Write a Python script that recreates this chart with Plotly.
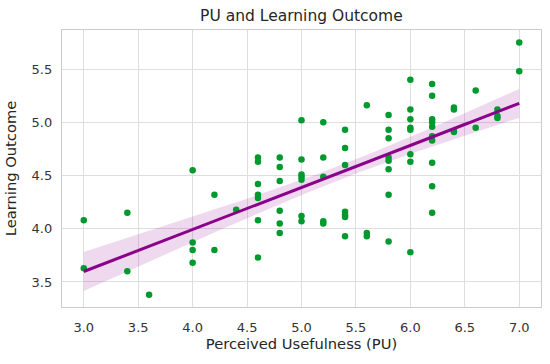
import numpy as np
import plotly.graph_objects as go

pu = [3.0, 3.0, 3.4, 3.4, 3.6,
      4.0, 4.0, 4.0, 4.0, 4.2, 4.2, 4.4,
      4.6, 4.6, 4.6, 4.6, 4.6, 4.6, 4.6,
      4.8, 4.8, 4.8, 4.8, 4.8, 4.8,
      5.0, 5.0, 5.0, 5.0, 5.0, 5.0, 5.0,
      5.2, 5.2, 5.2, 5.2, 5.2,
      5.4, 5.4, 5.4, 5.4, 5.4, 5.4, 5.4,
      5.6, 5.6, 5.6,
      5.8, 5.8, 5.8, 5.8, 5.8, 5.8, 5.8, 5.8,
      6.0, 6.0, 6.0, 6.0, 6.0, 6.0, 6.0, 6.0,
      6.2, 6.2, 6.2, 6.2, 6.2, 6.2, 6.2, 6.2, 6.2, 6.2,
      6.4, 6.4, 6.4, 6.4,
      6.6, 6.6,
      6.8, 6.8, 6.8,
      7.0, 7.0]
lo = [4.08, 3.63, 4.15, 3.60, 3.38,
      4.55, 3.87, 3.80, 3.68, 4.32, 3.80, 4.18,
      4.67, 4.63, 4.42, 4.32, 4.29, 4.08, 3.73,
      4.67, 4.58, 4.45, 4.17, 4.05, 3.96,
      5.02, 4.65, 4.51, 4.49, 4.46, 4.12, 4.07,
      5.00, 4.67, 4.49, 4.07, 4.05,
      4.93, 4.76, 4.60, 4.16, 4.13, 4.11, 3.93,
      5.16, 3.96, 3.93,
      5.07, 4.93, 4.85, 4.67, 4.64, 4.56, 4.32, 3.88,
      5.40, 5.12, 5.03, 4.95, 4.93, 4.70, 4.63, 3.78,
      5.36, 5.25, 5.03, 5.00, 4.96, 4.87, 4.83, 4.62, 4.40, 4.15,
      5.14, 5.12, 4.92, 4.91,
      5.30, 4.95,
      5.12, 5.06, 5.04,
      5.75, 5.48]

x = np.array(pu)
y = np.array(lo)
n = len(x)
b1, b0 = np.polyfit(x, y, 1)
xs = np.linspace(x.min(), x.max(), 100)
ys = b0 + b1 * xs
resid = y - (b0 + b1 * x)
s = np.sqrt(np.sum(resid ** 2) / (n - 2))
sxx = np.sum((x - x.mean()) ** 2)
se = s * np.sqrt(1.0 / n + (xs - x.mean()) ** 2 / sxx)
t = 1.7
upper = ys + t * se
lower = ys - t * se

fig = go.Figure()
fig.add_trace(go.Scatter(
    x=np.concatenate([xs, xs[::-1]]), y=np.concatenate([upper, lower[::-1]]),
    fill="toself", fillcolor="rgba(139,0,139,0.15)", line=dict(width=0),
    mode="lines", hoverinfo="skip", showlegend=False))
fig.add_trace(go.Scatter(x=x, y=y, mode="markers",
                         marker=dict(color="#00992e", size=6.5, line=dict(width=0)),
                         showlegend=False))
fig.add_trace(go.Scatter(x=xs, y=ys, mode="lines",
                         line=dict(color="#8b008b", width=3), showlegend=False))

axis_common = dict(showgrid=True, gridcolor="#dedede", gridwidth=1,
                   showline=True, linecolor="#cccccc", linewidth=1.3, mirror=True,
                   zeroline=False, ticks="outside", automargin=False,
                   tickcolor="rgba(0,0,0,0)",
                   tickfont=dict(family="DejaVu Sans", size=13, color="#333333"))

fig.update_layout(
    width=550, height=364,
    margin=dict(l=62, r=9, t=30, b=57),
    paper_bgcolor="white", plot_bgcolor="white",
    title=dict(text="PU and Learning Outcome", x=0.548, xanchor="center",
               y=0.957, yanchor="middle",
               font=dict(family="DejaVu Sans", size=15.5, color="#262626")),
    xaxis=dict(range=[2.8, 7.2], tickvals=[3.0, 3.5, 4.0, 4.5, 5.0, 5.5, 6.0, 6.5, 7.0],
               ticktext=["3.0", "3.5", "4.0", "4.5", "5.0", "5.5", "6.0", "6.5", "7.0"],
               ticklen=8,
               title=dict(text="Perceived Usefulness (PU)", standoff=1,
                          font=dict(family="DejaVu Sans", size=14.7, color="#262626")),
               **axis_common),
    yaxis=dict(range=[3.265, 5.868], tickvals=[3.5, 4.0, 4.5, 5.0, 5.5],
               ticktext=["3.5", "4.0", "4.5", "5.0", "5.5"],
               ticklen=6,
               title=dict(text="Learning Outcome", standoff=11,
                          font=dict(family="DejaVu Sans", size=14.7, color="#262626")),
               **axis_common),
)
fig.write_html("out.html", config={"displayModeBar": False},
               post_script="document.body.style.margin='0px';")
